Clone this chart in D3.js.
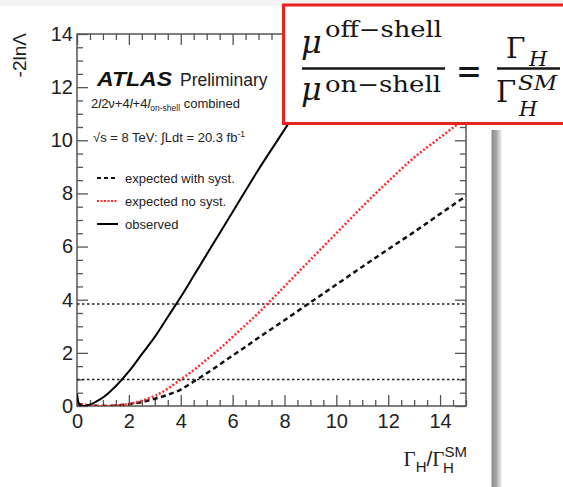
<!DOCTYPE html>
<html><head><meta charset="utf-8">
<script src="https://cdn.jsdelivr.net/npm/d3@7"></script>
<style>body{margin:0;background:#fff} svg{display:block}</style>
</head><body>
<svg id="c" width="563" height="487"></svg>
<script>
// ---- data ----
const gammaExp = [0,0.5,1,1.5,2,2.5,3,3.5,4,4.5,5,5.5,6,6.5,7,7.5,8,9,10,11,12,13,14,15];
const expNoSyst = [0.1,0.02,0,0.02,0.08,0.2,0.38,0.65,1.0,1.35,1.75,2.15,2.6,3.05,3.5,4.0,4.5,5.5,6.5,7.5,8.45,9.35,10.1,10.85];
const expWithSyst = [0.08,0.02,0,0.02,0.07,0.15,0.27,0.42,0.62,0.92,1.23,1.56,1.9,2.23,2.57,2.9,3.23,3.9,4.57,5.24,5.9,6.55,7.23,7.9];
const gammaObs = [0,0.05,0.15,0.3,0.5,0.75,1,1.25,1.5,2,2.5,3,3.5,4,4.5,5,5.5,6,7,8,9,10,10.6];
const observed = [0.45,0.15,0.02,0,0.05,0.17,0.32,0.52,0.75,1.3,1.95,2.6,3.35,4.1,4.9,5.7,6.5,7.3,8.9,10.4,11.9,13.4,14.3];
const thresholds = [1, 3.84];
const xTicks = [0,2,4,6,8,10,12,14];
const yTicks = [0,2,4,6,8,10,12,14];
const legendLabels = ["expected with syst.", "expected no syst.", "observed"];

const svg = d3.select("#c");
const x = d3.scaleLinear().domain([0,15]).range([77,466]);
const y = d3.scaleLinear().domain([0,14]).range([406,34]);
const minorX = d3.range(0,15.001,0.5).filter(v => v % 2 !== 0);
const minorY = d3.range(0,14.001,0.5).filter(v => v % 2 !== 0);
const SANS = "Liberation Sans, Arial, Helvetica, sans-serif";
const SERIF = "DejaVu Serif, Liberation Serif, serif";

// faint slide top band
svg.append("rect").attr("x",0).attr("y",0).attr("width",563).attr("height",6).attr("fill","#f3f3f3");

// slide edge shadow
const defs = svg.append("defs");
const grad = defs.append("linearGradient").attr("id","sh").attr("x1","0").attr("x2","1");
grad.append("stop").attr("offset","0").attr("stop-color","#8a8a8a");
grad.append("stop").attr("offset","0.45").attr("stop-color","#a8a8a8");
grad.append("stop").attr("offset","1").attr("stop-color","#ffffff");
svg.append("rect").attr("x",491.5).attr("y",130).attr("width",11).attr("height",357).attr("fill","url(#sh)");

defs.append("clipPath").attr("id","plot").append("rect")
  .attr("x",x(0)).attr("y",y(14)).attr("width",x(15)-x(0)).attr("height",y(0)-y(14));

function styleAxis(g){
  g.select(".domain").remove();
  g.selectAll(".tick line").attr("stroke","#555").attr("stroke-width",1.3);
  g.selectAll("text").attr("font-family",SANS).attr("font-size",20).attr("fill","#222");
}
// bottom
svg.append("g").attr("transform",`translate(0,${y(0)})`)
  .call(d3.axisBottom(x).tickValues(xTicks).tickSizeInner(-11).tickSizeOuter(0).tickPadding(8).tickFormat(d3.format("d"))).call(styleAxis);
svg.append("g").attr("transform",`translate(0,${y(0)})`)
  .call(d3.axisBottom(x).tickValues(minorX).tickSizeInner(-6).tickSizeOuter(0).tickFormat("")).call(styleAxis);
// top
svg.append("g").attr("transform",`translate(0,${y(14)})`)
  .call(d3.axisTop(x).tickValues(xTicks).tickSizeInner(-11).tickSizeOuter(0).tickFormat("")).call(styleAxis);
svg.append("g").attr("transform",`translate(0,${y(14)})`)
  .call(d3.axisTop(x).tickValues(minorX).tickSizeInner(-6).tickSizeOuter(0).tickFormat("")).call(styleAxis);
// left
svg.append("g").attr("transform",`translate(${x(0)},0)`)
  .call(d3.axisLeft(y).tickValues(yTicks).tickSizeInner(-11).tickSizeOuter(0).tickPadding(4).tickFormat(d3.format("d"))).call(styleAxis);
svg.append("g").attr("transform",`translate(${x(0)},0)`)
  .call(d3.axisLeft(y).tickValues(minorY).tickSizeInner(-6).tickSizeOuter(0).tickFormat("")).call(styleAxis);
// right
svg.append("g").attr("transform",`translate(${x(15)},0)`)
  .call(d3.axisRight(y).tickValues(yTicks).tickSizeInner(-11).tickSizeOuter(0).tickFormat("")).call(styleAxis);
svg.append("g").attr("transform",`translate(${x(15)},0)`)
  .call(d3.axisRight(y).tickValues(minorY).tickSizeInner(-6).tickSizeOuter(0).tickFormat("")).call(styleAxis);

// frame
svg.append("rect").attr("x",x(0)).attr("y",y(14)).attr("width",x(15)-x(0)).attr("height",y(0)-y(14))
  .attr("fill","none").attr("stroke","#555").attr("stroke-width",1.5);

// threshold lines
svg.append("g").selectAll("line").data(thresholds).join("line")
  .attr("x1",x(0)).attr("x2",x(15)).attr("y1",d=>y(d)).attr("y2",d=>y(d))
  .attr("stroke","#222").attr("stroke-width",1.5).attr("stroke-dasharray","2.5,2.5");

// curves
const pl = svg.append("g").attr("clip-path","url(#plot)");
const line = d3.line().curve(d3.curveMonotoneX).x(d=>x(d[0])).y(d=>y(d[1]));
pl.append("path").datum(d3.zip(gammaExp, expWithSyst)).attr("d",line)
  .attr("fill","none").attr("stroke","#111").attr("stroke-width",2.5).attr("stroke-dasharray","5,3.5");
pl.append("path").datum(d3.zip(gammaExp, expNoSyst)).attr("d",line)
  .attr("fill","none").attr("stroke","#ff2a2a").attr("stroke-width",2.5).attr("stroke-dasharray","2,2");
pl.append("path").datum(d3.zip(gammaObs, observed)).attr("d",line)
  .attr("fill","none").attr("stroke","#000").attr("stroke-width",2);

// axis titles
svg.append("text").attr("transform","translate(26,33) rotate(-90)").attr("text-anchor","end")
  .attr("font-family",SANS).attr("font-size",19).attr("fill","#222").text("-2lnΛ");
const xt = svg.append("text").attr("x",467).attr("y",466).attr("text-anchor","end").attr("fill","#222").attr("font-size",21);
xt.append("tspan").attr("font-family","Liberation Serif, serif").text("Γ");
xt.append("tspan").attr("font-family",SANS).attr("font-size",15).attr("dy",6).text("H");
xt.append("tspan").attr("font-family",SANS).attr("dy",-6).text("/");
xt.append("tspan").attr("font-family","Liberation Serif, serif").text("Γ");
xt.append("tspan").attr("font-family",SANS).attr("font-size",15).attr("dy",-9).text("SM");
svg.append("text").attr("x",443).attr("y",473).attr("font-family",SANS).attr("font-size",15).attr("fill","#222").text("H");

// ATLAS label
const t1 = svg.append("text").attr("x",97).attr("y",86).attr("fill","#111").attr("font-family",SANS);
t1.append("tspan").attr("font-weight","bold").attr("font-style","italic").attr("font-size",21).attr("textLength",75).attr("lengthAdjust","spacingAndGlyphs").text("ATLAS");
t1.append("tspan").attr("font-size",17.5).attr("x",180).attr("fill","#222").text("Preliminary");
const t2 = svg.append("text").attr("x",91).attr("y",108).attr("fill","#222").attr("font-family",SANS).attr("font-size",13);
t2.append("tspan").text("2");
t2.append("tspan").attr("font-style","italic").text("l");
t2.append("tspan").text("2ν+4");
t2.append("tspan").attr("font-style","italic").text("l");
t2.append("tspan").text("+4");
t2.append("tspan").attr("font-style","italic").text("l");
t2.append("tspan").attr("font-size",8.5).attr("dy",3).text("on-shell");
t2.append("tspan").attr("dy",-3).text(" combined");
const t3 = svg.append("text").attr("x",93).attr("y",142).attr("fill","#222").attr("font-family",SANS).attr("font-size",13);
t3.append("tspan").text("√s = 8 TeV: ∫Ldt = 20.3 fb");
t3.append("tspan").attr("font-size",8.5).attr("dy",-5).text("-1");

// legend
const legStyles = [
  {stroke:"#111", dash:"4,3", w:2},
  {stroke:"#ff2a2a", dash:"2,1.5", w:2},
  {stroke:"#000", dash:null, w:2}
];
const lg = svg.append("g").selectAll("g").data(legendLabels).join("g")
  .attr("transform",(d,i)=>`translate(0,${178 + i*23})`);
lg.append("line").attr("x1",97).attr("x2",118).attr("y1",0).attr("y2",0)
  .attr("stroke",(d,i)=>legStyles[i].stroke).attr("stroke-width",(d,i)=>legStyles[i].w)
  .attr("stroke-dasharray",(d,i)=>legStyles[i].dash);
lg.append("text").attr("x",125).attr("y",4.5).attr("font-family",SANS).attr("font-size",13).attr("fill","#222").text(d=>d);

// red formula box
svg.append("rect").attr("x",283.5).attr("y",5).attr("width",300).attr("height",118.5)
  .attr("fill","#fff").attr("stroke","#e8231f").attr("stroke-width",3);
const F = svg.append("g").attr("font-family",SERIF).attr("fill","#151515");
F.append("text").attr("x",301).attr("y",53).attr("font-size",32).attr("font-style","italic").text("μ");
F.append("text").attr("x",325).attr("y",37).attr("font-size",22).attr("textLength",117).attr("lengthAdjust","spacingAndGlyphs").text("off−shell");
F.append("line").attr("x1",302).attr("x2",445).attr("y1",68.5).attr("y2",68.5).attr("stroke","#151515").attr("stroke-width",2.5);
F.append("text").attr("x",301).attr("y",100).attr("font-size",32).attr("font-style","italic").text("μ");
F.append("text").attr("x",325).attr("y",92).attr("font-size",22).attr("textLength",116).attr("lengthAdjust","spacingAndGlyphs").text("on−shell");
F.append("text").attr("x",456).attr("y",84).attr("font-size",38).attr("textLength",26).attr("lengthAdjust","spacingAndGlyphs").text("=");
F.append("text").attr("x",506).attr("y",58).attr("font-size",28).text("Γ");
F.append("text").attr("x",529).attr("y",66).attr("font-size",21).attr("font-style","italic").text("H");
F.append("line").attr("x1",497).attr("x2",560).attr("y1",68.5).attr("y2",68.5).attr("stroke","#151515").attr("stroke-width",2.5);
F.append("text").attr("x",496).attr("y",102).attr("font-size",29).text("Γ");
F.append("text").attr("x",518).attr("y",90).attr("font-size",20).attr("font-style","italic").attr("textLength",39).attr("lengthAdjust","spacingAndGlyphs").text("SM");
F.append("text").attr("x",519).attr("y",116).attr("font-size",21).attr("font-style","italic").text("H");
</script>
</body></html>
